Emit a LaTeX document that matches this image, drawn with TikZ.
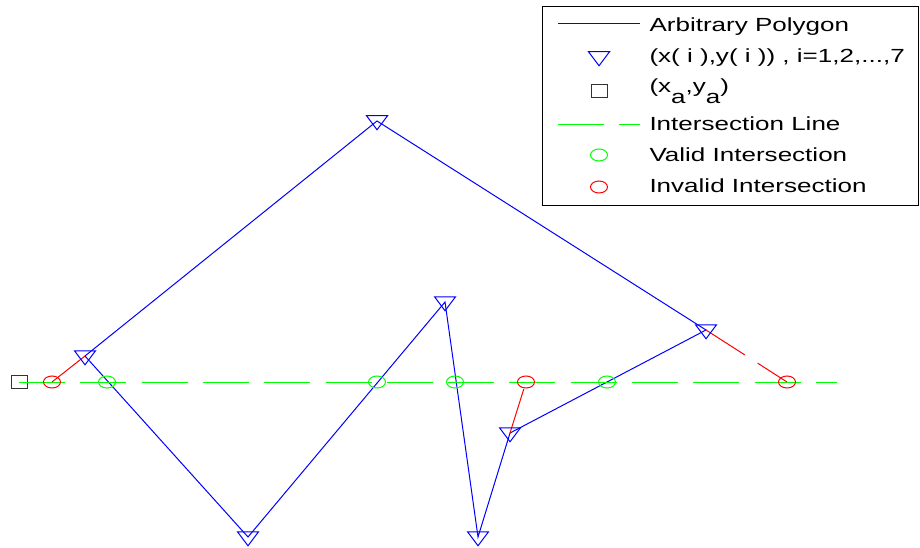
\documentclass[tikz,border=0pt]{standalone}
\usepackage{fontspec}
\setmainfont{Liberation Sans}[FakeStretch=1.37]
\usetikzlibrary{shapes.geometric}

\begin{document}
\begin{tikzpicture}[x=1pt,y=-1pt,font=\fontsize{19}{22}\selectfont,line width=1pt]
\tikzstyle{tri}=[draw=blue,isosceles triangle,isosceles triangle stretches,shape border rotate=270,minimum width=21,minimum height=14,inner sep=0pt]
\tikzstyle{ok}=[draw=green,ellipse,minimum width=17,minimum height=12,inner sep=0pt]
\tikzstyle{bad}=[ok,draw=red]
\tikzstyle{sq}=[draw=black!80,minimum width=16,minimum height=13,inner sep=0pt]
\tikzstyle{cut}=[green,dash pattern=on 46pt off 15.3pt]
\tikzstyle{ext}=[red,dash pattern=on 46pt off 15.3pt]
\tikzstyle{txt}=[anchor=base west,inner sep=0pt]
\useasboundingbox (0,0) rectangle (920,548);
% polygon vertices
\coordinate (v1) at (85,356); \coordinate (v2) at (377,121); \coordinate (v3) at (706,330); \coordinate (v4) at (510,433);
\coordinate (v5) at (478,537); \coordinate (v6) at (445,302); \coordinate (v7) at (248,537);
\draw[blue] (v1) -- (v2) -- (v3) -- (v4) -- (v5) -- (v6) -- (v7) -- cycle;
% intersection line
\node[sq] (xa) at (19,382) {}; \coordinate (xe) at (837,382);
\draw[cut] (xa.center) -- (xe);
\node[ok] (p1) at (107,382) {}; \node[ok] (p2) at (377,382) {}; \node[ok] (p3) at (455,382) {}; \node[ok] (p4) at (607,382) {};
\node[bad] (q1) at (52,382) {}; \node[bad] (q2) at (526,382) {}; \node[bad] (q3) at (787,382) {};
\draw[ext] (v1) -- (q1.center); \draw[ext] (v4) -- (q2.center); \draw[ext] (v3) -- (q3.center);
\foreach \i in {1,...,7} \node[tri] (t\i) at (v\i) {};
% legend
\node[draw,line width=1.1pt,minimum width=376,minimum height=199,inner sep=0pt,anchor=north west] (leg) at (542,6) {};
\coordinate (l1a) at (558,24); \coordinate (l1b) at (640,24); \draw[blue] (l1a) -- (l1b);
\node[tri] (lt) at (599,57) {}; \node[sq] (ls) at (599,91) {};
\coordinate (l4a) at (558,125); \coordinate (l4b) at (640,125); \draw[cut] (l4a) -- (l4b);
\node[ok] (lo) at (599,155) {}; \node[bad] (lr) at (599,187) {};
\node[txt] (e1) at (649,32) {Arbitrary Polygon};
\node[txt] (e2) at (649,63) {(x( i ),y( i )) , i=1,2,...,7};
\node[txt] (e3) at (649,93) {(x\raisebox{-11pt}{a},y\raisebox{-11pt}{a})};
\node[txt] (e4) at (649,131) {Intersection Line};
\node[txt] (e5) at (649,162) {Valid Intersection};
\node[txt] (e6) at (649,193) {Invalid Intersection};
\end{tikzpicture}
\end{document}
